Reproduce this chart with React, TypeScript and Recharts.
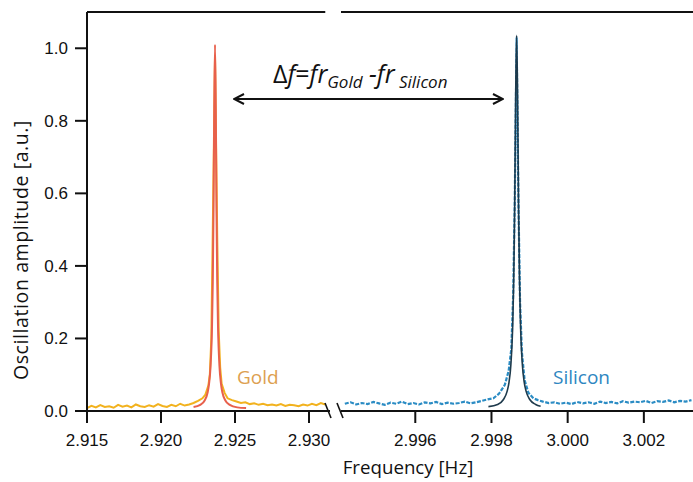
import React from "react";
import { LineChart, Line, XAxis, YAxis, ReferenceLine } from "recharts";

// Gold resonator: measured spectrum
const goldFreq = [
  2.915, 2.9153, 2.9156, 2.9159, 2.9162, 2.9165, 2.9168, 2.9171, 2.9174, 2.9177,
  2.918, 2.9183, 2.9186, 2.9189, 2.9192, 2.9195, 2.9198, 2.9201, 2.9204, 2.9207,
  2.921, 2.9213, 2.9216, 2.9219, 2.9222, 2.9225, 2.9228,
  2.923, 2.9232, 2.9233, 2.9234, 2.9235, 2.92365, 2.9238, 2.9239, 2.924, 2.9241, 2.9243, 2.9245,
  2.9248, 2.9251, 2.9254, 2.9257, 2.926, 2.9263, 2.9266, 2.9269, 2.9272, 2.9275,
  2.9278, 2.9281, 2.9284, 2.9287, 2.929, 2.9293, 2.9296, 2.9299, 2.9302, 2.9305, 2.9308, 2.9311,
];
const goldAmp = [
  0.008, 0.014, 0.01, 0.016, 0.011, 0.013, 0.009, 0.017, 0.012, 0.015,
  0.01, 0.018, 0.013, 0.011, 0.016, 0.012, 0.019, 0.014, 0.011, 0.017,
  0.013, 0.02, 0.015, 0.018, 0.022, 0.028, 0.035,
  0.045, 0.07, 0.1, 0.2, 0.5, 0.98, 0.48, 0.22, 0.12, 0.075, 0.05, 0.035,
  0.03, 0.026, 0.022, 0.024, 0.019, 0.021, 0.017, 0.02, 0.016, 0.018,
  0.015, 0.019, 0.014, 0.017, 0.016, 0.013, 0.018, 0.015, 0.02, 0.016, 0.022, 0.018,
];

// Gold resonator: Lorentzian fit
const goldFitFreq = [
  2.9222, 2.92265, 2.92295, 2.92315, 2.92325, 2.92335, 2.92345, 2.9235, 2.92355, 2.9236,
  2.92365, 2.9237, 2.92375, 2.9238, 2.92385, 2.92395, 2.92405, 2.92415, 2.92435, 2.92465,
  2.92515, 2.92575,
];
const goldFitAmp = [
  0.011, 0.017, 0.029, 0.051, 0.076, 0.124, 0.238, 0.356, 0.555, 0.838,
  1.01, 0.838, 0.555, 0.356, 0.238, 0.124, 0.076, 0.051, 0.029, 0.017,
  0.01, 0.008,
];

// Silicon resonator: measured spectrum
const siliconFreq = [
  2.99415, 2.9943, 2.99445, 2.9946, 2.99475, 2.9949, 2.99505, 2.9952, 2.99535, 2.9955,
  2.99565, 2.9958, 2.99595, 2.9961, 2.99625, 2.9964, 2.99655, 2.9967, 2.99685, 2.997,
  2.99715, 2.9973, 2.99745, 2.9976, 2.99775, 2.9979,
  2.99805, 2.9982, 2.99835, 2.99845, 2.99852, 2.99857, 2.99861, 2.99866, 2.99871, 2.99875,
  2.9988, 2.99887, 2.99897, 2.9991, 2.99922,
  2.99935, 2.9995, 2.99965, 2.9998, 2.99995, 3.0001, 3.00025, 3.0004, 3.00055, 3.0007,
  3.00085, 3.001, 3.00115, 3.0013, 3.00145, 3.0016, 3.00175, 3.0019, 3.00205, 3.0022,
  3.00235, 3.0025, 3.00265, 3.0028, 3.00295, 3.0031, 3.00325,
];
const siliconAmp = [
  0.02, 0.024, 0.018, 0.022, 0.019, 0.025, 0.021, 0.017, 0.023, 0.02,
  0.026, 0.019, 0.022, 0.018, 0.024, 0.021, 0.025, 0.019, 0.023, 0.02,
  0.022, 0.026, 0.021, 0.024, 0.028, 0.032,
  0.035, 0.048, 0.072, 0.11, 0.17, 0.32, 0.57, 1.03, 0.56, 0.3,
  0.16, 0.085, 0.05, 0.035, 0.03,
  0.026, 0.022, 0.024, 0.02, 0.023, 0.019, 0.025, 0.021, 0.024, 0.02,
  0.026, 0.022, 0.025, 0.021, 0.027, 0.023, 0.026, 0.024, 0.028, 0.022,
  0.027, 0.025, 0.029, 0.024, 0.028, 0.026, 0.03,
];

// Silicon resonator: Lorentzian fit
const siliconFitFreq = [
  2.99792, 2.99816, 2.99831, 2.99841, 2.99846, 2.99851, 2.99856, 2.998585, 2.99861, 2.998635,
  2.99866, 2.998685, 2.99871, 2.998735, 2.99876, 2.99881, 2.99886, 2.99891, 2.99901, 2.99916,
  2.99929,
];
const siliconFitAmp = [
  0.012, 0.018, 0.031, 0.054, 0.079, 0.129, 0.247, 0.368, 0.573, 0.865,
  1.036, 0.865, 0.573, 0.368, 0.247, 0.129, 0.079, 0.054, 0.031, 0.018,
  0.013,
];

const leftTicks = [2.915, 2.92, 2.925, 2.93];
const rightTicks = [2.996, 2.998, 3.0, 3.002];
const yTicks = [0, 0.2, 0.4, 0.6, 0.8, 1.0];

const toRows = (xs: number[], ys: number[]) => xs.map((f, i) => ({ f, a: ys[i] }));

const goldData = toRows(goldFreq, goldAmp);
const goldFit = toRows(goldFitFreq, goldFitAmp);
const siliconData = toRows(siliconFreq, siliconAmp);
const siliconFit = toRows(siliconFitFreq, siliconFitAmp);

const tickFont = { fill: "#111", fontSize: 17, fontFamily: "Liberation Sans, Arial, sans-serif" };
const axisStroke = { stroke: "#111", strokeWidth: 2 };
const labelFont = "Open Sans, sans-serif";

export default function App() {
  return (
    <div style={{ position: "absolute", left: 0, top: 0, width: 693, height: 482, background: "#fff", overflow: "hidden" }}>
      {/* left panel: gold */}
      <div style={{ position: "absolute", left: 0, top: 0 }}>
        <LineChart width={335} height={482} margin={{ top: 12, right: 5, bottom: 0, left: 0 }}>
          <XAxis
            type="number"
            dataKey="f"
            domain={[2.915, 2.93142]}
            ticks={leftTicks}
            tickFormatter={(v: number) => v.toFixed(3)}
            allowDataOverflow
            height={71}
            tickSize={12}
            tickMargin={11}
            tick={tickFont}
            axisLine={axisStroke}
            tickLine={axisStroke}
          />
          <YAxis
            type="number"
            domain={[0, 1.1]}
            ticks={yTicks}
            tickFormatter={(v: number) => v.toFixed(1)}
            allowDataOverflow
            width={87}
            tickSize={12}
            tickMargin={7}
            tick={tickFont}
            axisLine={axisStroke}
            tickLine={axisStroke}
          />
          <ReferenceLine
            segment={[{ x: 2.915, y: 1.1 }, { x: 2.9311, y: 1.1 }]}
            stroke="#111"
            strokeWidth={2}
          />
          <Line data={goldData} dataKey="a" type="linear" stroke="#F2B21E" strokeWidth={2} dot={false} isAnimationActive={false} />
          <Line data={goldFit} dataKey="a" type="monotone" stroke="#E8604C" strokeWidth={2} dot={false} isAnimationActive={false} />
        </LineChart>
      </div>

      {/* right panel: silicon */}
      <div style={{ position: "absolute", left: 341, top: 0 }}>
        <LineChart width={352} height={482} margin={{ top: 12, right: 0, bottom: 0, left: 0 }}>
          <XAxis
            type="number"
            dataKey="f"
            domain={[2.99405, 3.00329]}
            ticks={rightTicks}
            tickFormatter={(v: number) => v.toFixed(3)}
            allowDataOverflow
            height={71}
            tickSize={12}
            tickMargin={11}
            tick={tickFont}
            axisLine={axisStroke}
            tickLine={axisStroke}
          />
          <YAxis type="number" domain={[0, 1.1]} allowDataOverflow hide />
          <ReferenceLine y={1.1} stroke="#111" strokeWidth={2} />
          <Line data={siliconData} dataKey="a" type="linear" stroke="#2B8CC4" strokeWidth={2.2} strokeDasharray="4 1.5" dot={false} isAnimationActive={false} />
          <Line data={siliconFit} dataKey="a" type="monotone" stroke="#1E3A4C" strokeWidth={1.6} dot={false} isAnimationActive={false} />
        </LineChart>
      </div>

      {/* annotations */}
      <svg width={693} height={482} style={{ position: "absolute", left: 0, top: 0, pointerEvents: "none" }}>
        <defs>
          <marker id="ah" viewBox="0 0 12 12" refX="11" refY="6" markerWidth="12" markerHeight="12" markerUnits="userSpaceOnUse" orient="auto-start-reverse">
            <path d="M1,1 L11,6 L1,11" fill="none" stroke="#111" strokeWidth="2" />
          </marker>
        </defs>
        <line x1={234} y1={99} x2={503} y2={99} stroke="#111" strokeWidth={2} markerStart="url(#ah)" markerEnd="url(#ah)" />
        <text x={273} y={83} fontFamily={labelFont} fontSize={25} fill="#111">
          <tspan>Δ</tspan>
          <tspan fontStyle="italic">f</tspan>
          <tspan>=</tspan>
          <tspan fontStyle="italic">fr</tspan>
          <tspan fontStyle="italic" fontSize={17} dy={5}>Gold</tspan>
          <tspan fontStyle="italic" dy={-5}> -fr</tspan>
          <tspan fontStyle="italic" fontSize={17} dy={5}> Silicon</tspan>
        </text>
        {/* axis breaks */}
        <line x1={325} y1={403} x2={331} y2={418} stroke="#111" strokeWidth={1.6} />
        <line x1={337} y1={403} x2={343} y2={418} stroke="#111" strokeWidth={1.6} />
        <text x={237} y={384} fontFamily={labelFont} fontSize={19} fill="#DDA050">Gold</text>
        <text x={553} y={384} fontFamily={labelFont} fontSize={19} fill="#2E86C1">Silicon</text>
        <text x={408} y={474} textAnchor="middle" fontFamily={labelFont} fontSize={18.7} fill="#111">Frequency [Hz]</text>
        <text
          x={28}
          y={250}
          textAnchor="middle"
          fontFamily={labelFont}
          fontSize={19.5}
          letterSpacing={0.6}
          fill="#111"
          transform="rotate(-90 28 250)"
        >
          Oscillation amplitude [a.u.]
        </text>
      </svg>
    </div>
  );
}
